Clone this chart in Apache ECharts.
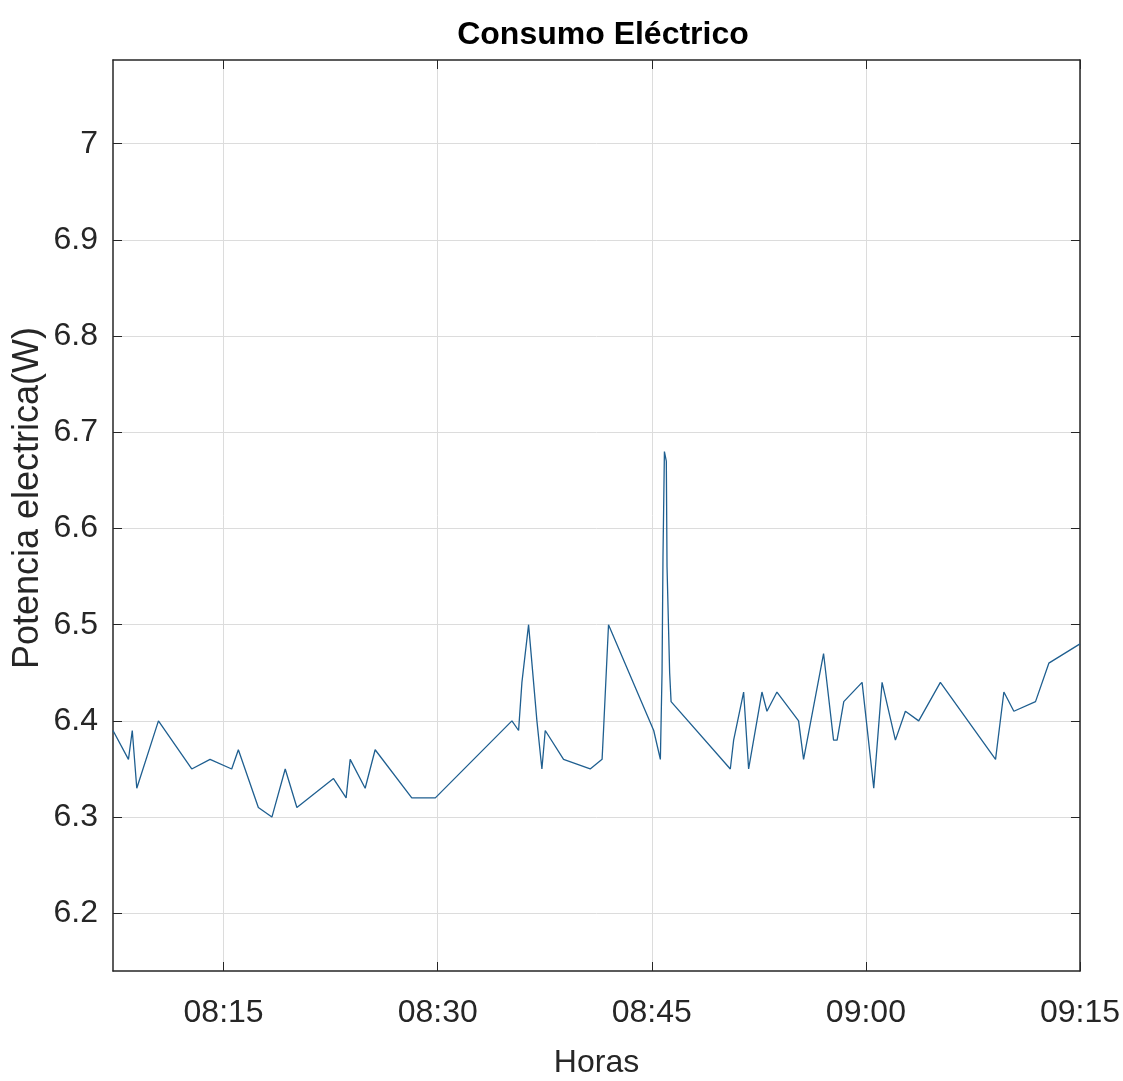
<!DOCTYPE html>
<html><head><meta charset="utf-8">
<script src="https://cdn.jsdelivr.net/npm/echarts@6/dist/echarts.min.js"></script>
<style>html,body{margin:0;padding:0;background:#fff}#c{width:1123px;height:1081px}</style>
</head><body><div id="c"></div>
<script>
// ---- data ----
const times = [
 '08:07:15','08:08:20','08:08:36','08:08:55','08:10:26','08:12:46','08:14:03','08:15:34','08:16:02','08:17:26',
 '08:18:23','08:19:19','08:20:08','08:22:42','08:23:35','08:23:52','08:24:55','08:25:37','08:28:11','08:29:50',
 '08:35:12','08:35:40','08:35:54','08:36:22','08:36:29','08:36:57','08:37:18','08:37:32','08:38:49','08:40:41',
 '08:41:31','08:41:37','08:41:58','08:45:08','08:45:36','08:45:43','08:45:47','08:45:53','08:46:01','08:46:04',
 '08:46:15','08:46:21','08:50:30','08:50:44','08:51:26','08:51:47','08:52:43','08:53:04','08:53:46','08:55:17',
 '08:55:38','08:57:02','08:57:44','08:57:59','08:58:27','08:59:44','09:00:33','09:01:08','09:02:04','09:02:46',
 '09:03:42','09:05:13','09:09:05','09:09:40','09:10:22','09:11:53','09:12:49','09:15:00'
];
const values = [
 6.39,6.36,6.39,6.33,6.40,6.35,6.36,6.35,6.37,6.31,
 6.30,6.35,6.31,6.34,6.32,6.36,6.33,6.37,6.32,6.32,
 6.40,6.39,6.44,6.50,6.48,6.40,6.35,6.39,6.36,6.35,
 6.36,6.39,6.50,6.39,6.36,6.45,6.57,6.68,6.67,6.56,
 6.45,6.42,6.35,6.38,6.43,6.35,6.43,6.41,6.43,6.40,
 6.36,6.47,6.38,6.38,6.42,6.44,6.33,6.44,6.38,6.41,
 6.40,6.44,6.36,6.43,6.41,6.42,6.46,6.48
];
const xTickLabels = ['08:15','08:30','08:45','09:00','09:15'];
const yTickValues = [6.2,6.3,6.4,6.5,6.6,6.7,6.8,6.9,7.0];
const xRange = ['08:07:15','09:15:00'];
const yRange = [6.14,7.087];
const titleText = 'Consumo Eléctrico';
const xName = 'Horas';
const yName = 'Potencia electrica(W)';

// ---- build ----
function toSec(s){const p=s.split(':').map(Number);return p[0]*3600+p[1]*60+(p[2]||0);}
function fmt(v){const h=Math.floor(v/3600),m=Math.round((v%3600)/60);return String(h).padStart(2,'0')+':'+String(m).padStart(2,'0');}
const seriesData = times.map((t,i)=>[toSec(t),values[i]]);
const xTicks = xTickLabels.map(toSec);

const FONT = "'Liberation Sans',Arial,Helvetica,sans-serif";
const AX = '#262626';
const GRID = '#dcdcdc';

const chart = echarts.init(document.getElementById('c'),null,{renderer:'canvas'});
chart.setOption({
  animation:false,
  backgroundColor:'#fff',
  title:{text:titleText,left:598,textAlign:'center',top:14,
    textStyle:{fontFamily:FONT,fontWeight:'bold',fontSize:32,color:'#000'}},
  graphic:[{
    type:'text',x:28,y:498,rotation:Math.PI/2,
    style:{text:yName,font:"36px 'Liberation Sans',Arial,sans-serif",fill:AX,
      align:'center',verticalAlign:'middle',textAlign:'center',textVerticalAlign:'middle'}
  }],
  grid:{left:113,right:43,top:60,bottom:110,outerBoundsMode:'none',containLabel:false},
  xAxis:[{
    type:'value',min:toSec(xRange[0]),max:toSec(xRange[1]),
    name:xName,nameLocation:'middle',nameGap:76,
    nameTextStyle:{fontFamily:FONT,fontSize:32,color:AX},
    axisLine:{show:true,onZero:false,lineStyle:{color:AX,width:1.5}},
    axisTick:{show:true,inside:true,length:9,customValues:xTicks,lineStyle:{color:AX}},
    axisLabel:{customValues:xTicks,formatter:fmt,margin:26,fontFamily:FONT,fontSize:32,color:AX},
    splitLine:{show:true,lineStyle:{color:GRID,width:1}}
  },{
    type:'value',position:'top',min:toSec(xRange[0]),max:toSec(xRange[1]),
    axisLine:{show:true,onZero:false,lineStyle:{color:AX,width:1.5}},
    axisTick:{show:true,inside:true,length:9,customValues:xTicks,lineStyle:{color:AX}},
    axisLabel:{show:false},splitLine:{show:false}
  }],
  yAxis:[{
    type:'value',min:yRange[0],max:yRange[1],
    axisLine:{show:true,onZero:false,lineStyle:{color:AX,width:1.5}},
    axisTick:{show:true,inside:true,length:9,customValues:yTickValues,lineStyle:{color:AX}},
    axisLabel:{customValues:yTickValues,formatter:v=>String(+v.toFixed(1)),margin:15,fontFamily:FONT,fontSize:32,color:AX},
    splitLine:{show:true,lineStyle:{color:GRID,width:1}}
  },{
    type:'value',position:'right',min:yRange[0],max:yRange[1],
    axisLine:{show:true,onZero:false,lineStyle:{color:AX,width:1.5}},
    axisTick:{show:true,inside:true,length:9,customValues:yTickValues,lineStyle:{color:AX}},
    axisLabel:{show:false},splitLine:{show:false}
  }],
  series:[{
    type:'line',data:seriesData,showSymbol:false,
    lineStyle:{color:'#1f5f90',width:1.3},
    xAxisIndex:0,yAxisIndex:0
  }]
});
</script></body></html>
